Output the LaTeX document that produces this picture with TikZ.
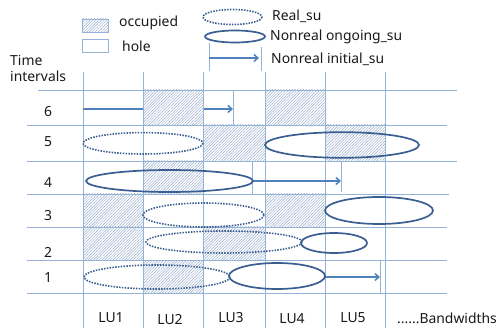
\documentclass[tikz,border=0pt]{standalone}
\usepackage{fontspec}
\setmainfont{Noto Sans}
\usetikzlibrary{patterns.meta,arrows.meta}
\definecolor{gridc}{RGB}{149,179,215}
\definecolor{hatchc}{RGB}{150,172,205}
\definecolor{ellc}{RGB}{58,94,145}
\definecolor{arrc}{RGB}{79,129,189}
\tikzset{
  gridline/.style={gridc, line width=0.9pt},
  occ/.style={draw=gridc, line width=0.9pt, preaction={fill=white},
    pattern={Lines[angle=45,distance=2pt,line width=0.45pt]}, pattern color=hatchc},
  hole/.style={draw=gridc, line width=0.9pt, fill=white},
  realsu/.style={ellc, line width=1.6pt, dash pattern=on 1.5pt off 1.3pt},
  ongoing/.style={ellc, line width=1.7pt},
  initarr/.style={arrc, line width=1.5pt, -{Straight Barb[length=4pt,width=7pt,line width=1.5pt]}},
  bar/.style={gridc, line width=0.9pt},
  txt/.style={font=\fontsize{13.9}{15}\selectfont, text=black!90, inner sep=0pt},
}
\begin{document}
\begin{tikzpicture}[x=1pt,y=-1pt]
\useasboundingbox (0,0) rectangle (497,328);
% grid
\foreach \x in {83,143,203,265,325,385} \draw[gridline] (\x,72) -- (\x,328);
\draw[gridline] (38,90) -- (457,90);
\draw[gridline] (27,125) -- (447,125);
\draw[gridline] (27,161) -- (457,161);
\draw[gridline] (27,194) -- (449,194);
\draw[gridline] (27,227) -- (447,227);
\draw[gridline] (27,260) -- (447,260);
\draw[gridline] (27,293) -- (447,293);
% arrows (initial su)
\coordinate (a6s) at (83,109); \coordinate (a6e) at (233,109);
\draw[initarr] (a6s) -- (a6e);
\draw[bar] (233,90) -- (233,125);
\coordinate (a4s) at (253,181); \coordinate (a4e) at (341,181);
\draw[initarr] (a4s) -- (a4e);
\draw[bar] (252,161) -- (252,194);
\draw[bar] (341,161) -- (341,192);
\coordinate (a1s) at (325,277); \coordinate (a1e) at (380,277);
\draw[initarr] (a1s) -- (a1e);
\draw[bar] (380,260) -- (380,293);
% occupied cells
\draw[occ] (143,90) rectangle (203,125);
\draw[occ] (265,90) rectangle (325,125);
\draw[occ] (203,125) rectangle (265,161);
\draw[occ] (325,125) rectangle (385,161);
\draw[occ] (143,161) rectangle (203,194);
\draw[occ] (83,194) rectangle (143,227);
\draw[occ] (265,194) rectangle (325,227);
\draw[occ] (83,227) rectangle (143,260);
\draw[occ] (203,227) rectangle (265,260);
\draw[occ] (143,260) rectangle (203,293);
% ellipses
\draw[realsu] (143,143.3) ellipse [x radius=60, y radius=10.7];
\draw[ongoing] (342,145) ellipse [x radius=77, y radius=12.8];
\draw[ongoing] (169.5,181) ellipse [x radius=83.5, y radius=11];
\draw[realsu] (203.5,215) ellipse [x radius=60.5, y radius=12];
\draw[ongoing] (379,210.5) ellipse [x radius=54, y radius=13.5];
\draw[realsu] (224,242) ellipse [x radius=78, y radius=11];
\draw[ongoing] (334,243) ellipse [x radius=33, y radius=10];
\draw[realsu] (157,277) ellipse [x radius=73, y radius=12];
\draw[ongoing] (277,276) ellipse [x radius=48, y radius=13];
% legend
\draw[occ] (82,19) rectangle (108,32);
\draw[hole] (82,39) rectangle (108,52);
\node[txt, anchor=base west] (locc) at (119,27) {occupied};
\node[txt, anchor=base west] (lhole) at (122,51.5) {hole};
\draw[realsu] (232.5,17) ellipse [x radius=29.5, y radius=7.5];
\draw[ongoing] (235,36.5) ellipse [x radius=30, y radius=6];
\draw[bar] (209,43) -- (209,71);
\draw[bar] (261,47) -- (261,71);
\coordinate (las) at (209,58); \coordinate (lae) at (259,58);
\draw[initarr] (las) -- (lae);
\node[txt, anchor=base west] (lreal) at (272,21) {Real\_su};
\node[txt, anchor=base west] (long) at (270,40.5) {Nonreal ongoing\_su};
\node[txt, anchor=base west] (linit) at (271,63.5) {Nonreal initial\_su};
% axis labels
\node[txt, anchor=base west] (t1) at (10,66) {Time};
\node[txt, anchor=base west] (t2) at (10,82) {intervals};
\node[txt, anchor=base] (r6) at (48,117) {6};
\node[txt, anchor=base] (r5) at (48,147) {5};
\node[txt, anchor=base] (r4) at (48,188) {4};
\node[txt, anchor=base] (r3) at (48,221) {3};
\node[txt, anchor=base] (r2) at (48,258) {2};
\node[txt, anchor=base] (r1) at (48,282) {1};
\node[txt, anchor=base] (lu1) at (111,322) {LU1};
\node[txt, anchor=base] (lu2) at (170,324) {LU2};
\node[txt, anchor=base] (lu3) at (231,322) {LU3};
\node[txt, anchor=base] (lu4) at (292,323) {LU4};
\node[txt, anchor=base] (lu5) at (353,322) {LU5};
\node[txt, anchor=base west] (bw) at (397,323) {......Bandwidths};
\end{tikzpicture}
\end{document}
